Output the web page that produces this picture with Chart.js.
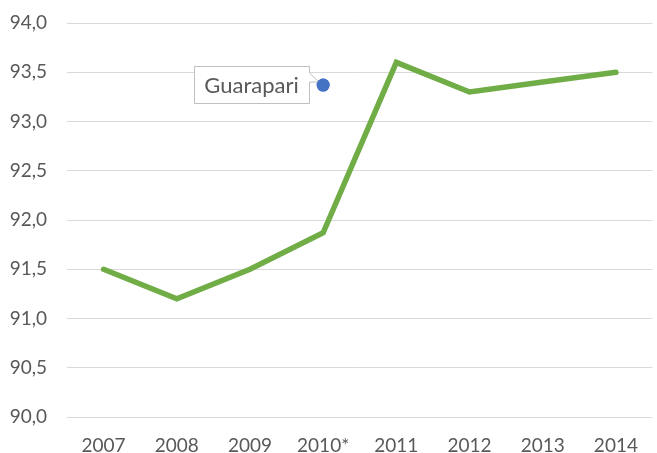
<!DOCTYPE html>
<html>
<head>
<meta charset="utf-8">
<script src="https://cdn.jsdelivr.net/npm/chart.js@4.4.1/dist/chart.umd.min.js"></script>
<style>
  html, body { margin: 0; padding: 0; background: #fff; overflow: hidden; }
  /* plot area runs a couple of pixels past the right edge, like the original */
  #wrap { position: relative; width: 659px; height: 453px; }
</style>
</head>
<body>
<div id="wrap"><canvas id="chart"></canvas></div>
<script>
const categories = ["2007", "2008", "2009", "2010*", "2011", "2012", "2013", "2014"];
const guarapariValues = [91.5, 91.2, 91.5, 91.87, 93.6, 93.3, 93.4, 93.5];
// series label marker sits at the 2010* slot
const markerValues = [null, null, null, 93.37, null, null, null, null];
const seriesName = "Guarapari";
const yMin = 90, yMax = 94, yStep = 0.5;

const textColor = "#595959";
const fontFamily = "Lato, 'Noto Sans', sans-serif";

// draws the callout box with a little pointer next to the marker point
const calloutPlugin = {
  id: "callout",
  afterDatasetsDraw(chart) {
    const meta = chart.getDatasetMeta(1);
    const pt = meta.data[3];
    if (!pt) return;
    const ctx = chart.ctx;
    const px = pt.x, py = pt.y;
    const right = Math.round(px - 14), left = Math.round(px - 129);
    const top = Math.round(py - 19), bottom = Math.round(py + 18);

    ctx.save();
    ctx.beginPath();
    ctx.moveTo(left + 0.5, top + 0.5);
    ctx.lineTo(right + 0.5, top + 0.5);
    ctx.lineTo(right + 0.5, py - 12);
    ctx.lineTo(px - 4, py - 3);
    ctx.lineTo(right + 0.5, py - 3);
    ctx.lineTo(right + 0.5, bottom + 0.5);
    ctx.lineTo(left + 0.5, bottom + 0.5);
    ctx.closePath();
    ctx.fillStyle = "#ffffff";
    ctx.fill();
    ctx.strokeStyle = "#bfbfbf";
    ctx.lineWidth = 1;
    ctx.stroke();

    ctx.fillStyle = textColor;
    ctx.font = "22px " + fontFamily;
    ctx.textAlign = "center";
    ctx.textBaseline = "middle";
    ctx.fillText(seriesName, (left + right) / 2, (top + bottom) / 2 + 1);
    ctx.restore();

    // redraw the marker so it sits above the box edge
    pt.draw(ctx, chart.chartArea);
  }
};

new Chart(document.getElementById("chart"), {
  type: "line",
  data: {
    labels: categories,
    datasets: [
      {
        label: seriesName,
        data: guarapariValues,
        borderColor: "#70AD47",
        borderWidth: 5.5,
        borderCapStyle: "round",
        borderJoinStyle: "miter",
        pointRadius: 0,
        tension: 0,
        fill: false
      },
      {
        label: seriesName + " marker",
        data: markerValues,
        showLine: false,
        pointRadius: 6.5,
        pointBackgroundColor: "#4472C4",
        pointBorderColor: "#4472C4",
        pointBorderWidth: 0
      }
    ]
  },
  options: {
    responsive: true,
    maintainAspectRatio: false,
    animation: false,
    events: [],
    layout: { padding: { top: 23, right: 0, bottom: 0, left: 0 } },
    plugins: {
      legend: { display: false },
      tooltip: { enabled: false }
    },
    scales: {
      x: {
        offset: true,
        grid: { display: false },
        border: { display: false },
        ticks: {
          color: textColor,
          font: { family: fontFamily, size: 19 },
          padding: 9,
          maxRotation: 0
        },
        afterFit(scale) {
          scale.height = 36;
          scale.paddingLeft = 0;
          scale.paddingRight = 0;
        }
      },
      y: {
        min: yMin,
        max: yMax,
        border: { display: false },
        grid: { color: "#d9d9d9", lineWidth: 1, drawTicks: false },
        ticks: {
          stepSize: yStep,
          color: textColor,
          font: { family: fontFamily, size: 19 },
          padding: 20,
          callback: (v) => v.toFixed(1).replace(".", ",")
        },
        afterFit(scale) {
          scale.width = 67;
          scale.paddingTop = 0;
          scale.paddingBottom = 0;
        }
      }
    }
  },
  plugins: [calloutPlugin]
});
</script>
</body>
</html>
